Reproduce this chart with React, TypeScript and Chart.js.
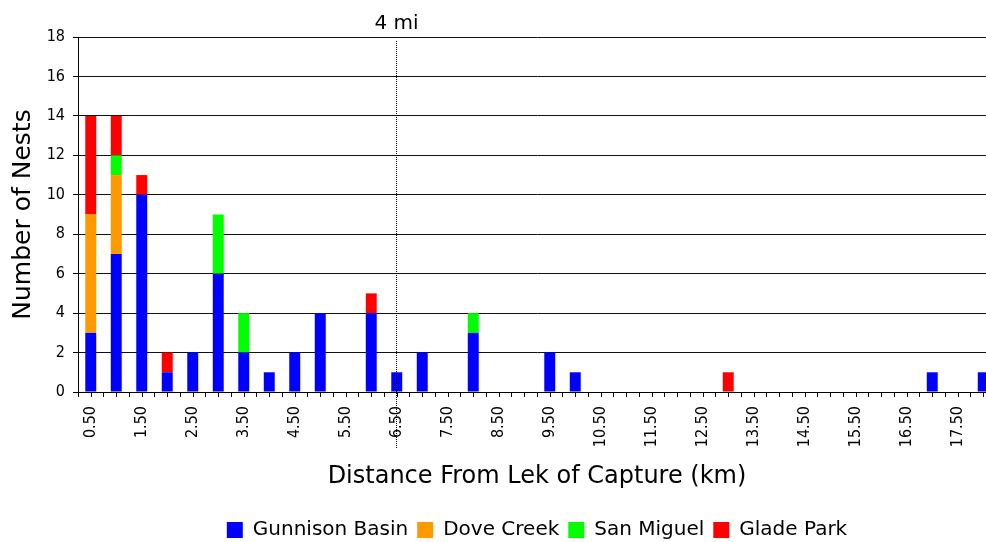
import React, { useEffect, useRef } from "react";
import { Chart, registerables } from "chart.js";

Chart.register(...registerables);

const DISTANCE_KM = [
  0.5, 1.0, 1.5, 2.0, 2.5, 3.0, 3.5, 4.0, 4.5, 5.0, 5.5, 6.0,
  6.5, 7.0, 7.5, 8.0, 8.5, 9.0, 9.5, 10.0, 10.5, 11.0, 11.5, 12.0,
  12.5, 13.0, 13.5, 14.0, 14.5, 15.0, 15.5, 16.0, 16.5, 17.0, 17.5, 18.0,
];

const GUNNISON_BASIN = [3, 7, 10, 1, 2, 6, 2, 1, 2, 4, 0, 4, 1, 2, 0, 3, 0, 0, 2, 1, 0, 0, 0, 0, 0, 0, 0, 0, 0, 0, 0, 0, 0, 1, 0, 1];
const DOVE_CREEK = [6, 4, 0, 0, 0, 0, 0, 0, 0, 0, 0, 0, 0, 0, 0, 0, 0, 0, 0, 0, 0, 0, 0, 0, 0, 0, 0, 0, 0, 0, 0, 0, 0, 0, 0, 0];
const SAN_MIGUEL = [0, 1, 0, 0, 0, 3, 2, 0, 0, 0, 0, 0, 0, 0, 0, 1, 0, 0, 0, 0, 0, 0, 0, 0, 0, 0, 0, 0, 0, 0, 0, 0, 0, 0, 0, 0];
const GLADE_PARK = [5, 2, 1, 1, 0, 0, 0, 0, 0, 0, 0, 1, 0, 0, 0, 0, 0, 0, 0, 0, 0, 0, 0, 0, 0, 1, 0, 0, 0, 0, 0, 0, 0, 0, 0, 0];

const SERIES_NAMES = ["Gunnison Basin", "Dove Creek", "San Miguel", "Glade Park"];
const SERIES_COLORS = ["#0000FF", "#FF9900", "#00FF00", "#FF0000"];

const Y_MAX = 18;
const MARKER_KM = 6.48; // "4 mi" reference line
const MARKER_LABEL = "4 mi";

const FONT = "'DejaVu Sans', sans-serif";
const TICK_FONT = "'DejaVu Sans Condensed', 'DejaVu Sans', sans-serif";

const markerPlugin = {
  id: "marker",
  afterDatasetsDraw(chart: any) {
    const { ctx, chartArea } = chart;
    const xs = chart.scales.x;
    ctx.save();
    ctx.strokeStyle = "#000";
    ctx.lineWidth = 1;
    // tick marks at category centres
    for (let i = 0; i < DISTANCE_KM.length; i++) {
      const x = Math.round(xs.getPixelForValue(i)) + 0.5;
      ctx.beginPath();
      ctx.moveTo(x, xs.top);
      ctx.lineTo(x, xs.top + 5);
      ctx.stroke();
    }
    // dotted marker line
    const idx = (MARKER_KM - DISTANCE_KM[0]) / (DISTANCE_KM[1] - DISTANCE_KM[0]);
    const mx = Math.round(xs.getPixelForValue(idx)) + 0.5;
    ctx.setLineDash([1, 1]);
    ctx.beginPath();
    ctx.moveTo(mx, chartArea.top + 4);
    ctx.lineTo(mx, xs.top + 56);
    ctx.stroke();
    ctx.setLineDash([]);
    ctx.fillStyle = "#000";
    ctx.font = `20px ${FONT}`;
    ctx.textAlign = "center";
    ctx.textBaseline = "alphabetic";
    ctx.fillText(MARKER_LABEL, mx, chartArea.top - 8);
    ctx.restore();
  },
};

export default function App() {
  const ref = useRef<HTMLCanvasElement | null>(null);

  useEffect(() => {
    if (!ref.current) return;
    const seriesData = [GUNNISON_BASIN, DOVE_CREEK, SAN_MIGUEL, GLADE_PARK];
    const chart = new Chart(ref.current, {
      type: "bar",
      data: {
        labels: DISTANCE_KM.map((d) => d.toFixed(2)),
        datasets: seriesData.map((d, i) => ({
          label: SERIES_NAMES[i],
          data: d,
          backgroundColor: SERIES_COLORS[i],
          borderWidth: 0,
          barPercentage: 0.43,
          categoryPercentage: 1,
          yAxisID: "y",
        })),
      },
      options: {
        responsive: false,
        animation: false,
        devicePixelRatio: 1,
        layout: { padding: { top: 37, left: 0, right: 0, bottom: 0 } },
        plugins: {
          legend: {
            position: "bottom",
            labels: {
              boxWidth: 16,
              boxHeight: 16,
              padding: 9,
              color: "#000",
              font: { family: FONT, size: 20 },
            },
          },
          tooltip: { enabled: false },
        },
        scales: {
          x: {
            stacked: true,
            grid: {
              offset: true,
              drawOnChartArea: false,
              drawTicks: true,
              tickLength: 5,
              color: "#000",
              tickColor: "#000",
            },
            border: { color: "#000", width: 1 },
            ticks: {
              autoSkip: false,
              minRotation: 90,
              maxRotation: 90,
              padding: 9,
              color: "#000",
              font: { family: TICK_FONT, size: 16 },
              callback: (_v: any, i: number) => (i % 2 === 0 ? DISTANCE_KM[i].toFixed(2) : ""),
            },
            title: {
              display: true,
              text: "Distance From Lek of Capture (km)",
              color: "#000",
              font: { family: FONT, size: 24 },
              padding: { top: 0, bottom: 20 },
            },
            afterFit: (s: any) => {
              s.height = 119;
            },
          },
          y: {
            stacked: true,
            min: 0,
            max: Y_MAX,
            grid: {
              color: (c: any) => (c.tick && c.tick.value % 2 === 0 ? "#111" : "rgba(0,0,0,0)"),
              tickColor: "#000",
              tickLength: 5,
            },
            border: { color: "#000", width: 1 },
            ticks: {
              stepSize: 1,
              padding: 8,
              color: "#000",
              font: { family: TICK_FONT, size: 16 },
              callback: (v: any) => (Number(v) % 2 === 0 ? String(v) : ""),
            },
            title: {
              display: true,
              text: "Number of Nests",
              color: "#000",
              font: { family: FONT, size: 25 },
              padding: { top: 8, bottom: 0 },
            },
            afterFit: (s: any) => {
              s.width = 78;
            },
          },
          yRight: {
            type: "linear",
            position: "right",
            display: true,
            grid: { display: false, drawTicks: false },
            border: { display: false },
            ticks: { display: false },
            afterFit: (s: any) => {
              s.width = 78;
            },
          },
        },
      },
      plugins: [markerPlugin],
    } as any);
    return () => chart.destroy();
  }, []);

  return (
    <div
      style={{
        position: "fixed",
        left: 0,
        top: 0,
        width: 986,
        height: 542,
        overflow: "hidden",
        background: "#fff",
      }}
    >
      <canvas ref={ref} width={1074} height={550} style={{ display: "block", width: 1074, height: 550 }} />
    </div>
  );
}
